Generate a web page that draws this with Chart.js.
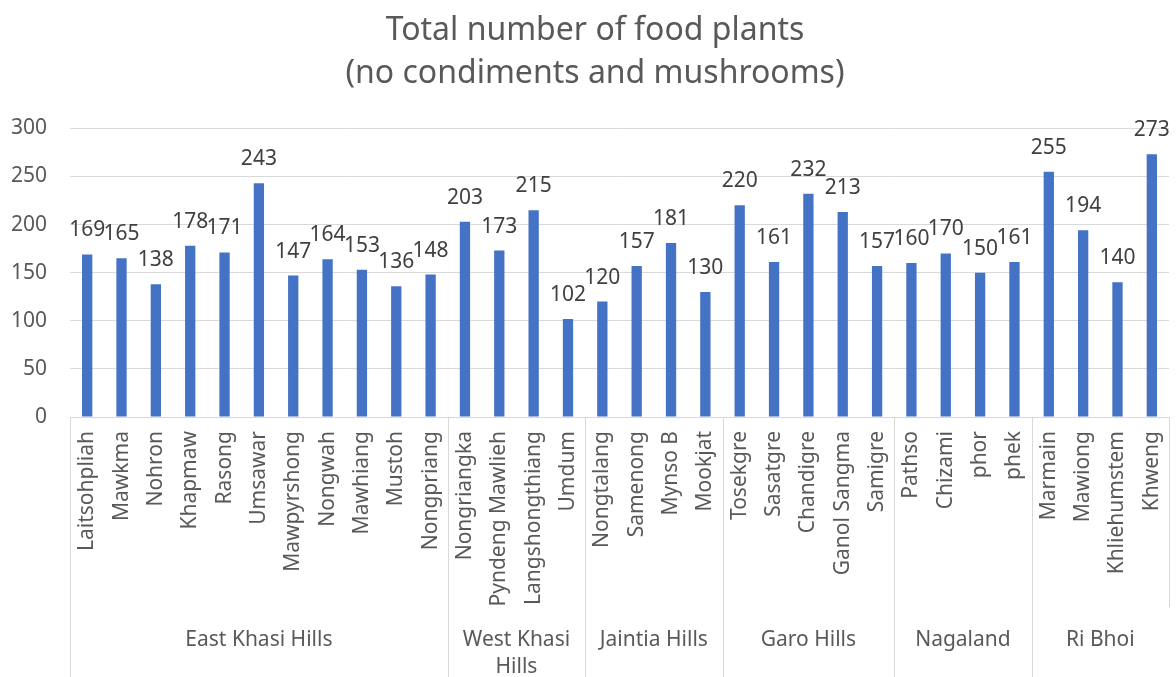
<!DOCTYPE html>
<html>
<head>
<meta charset="utf-8">
<script src="https://cdn.jsdelivr.net/npm/chart.js@4.4.1/dist/chart.umd.min.js"></script>
<style>
  html, body { margin: 0; padding: 0; background: #fff; }
  #wrap { width: 1176px; height: 677px; position: relative; }
</style>
</head>
<body>
<div id="wrap"><canvas id="myChart"></canvas></div>
<script>
const villages = [
  'Laitsohpliah', 'Mawkma', 'Nohron', 'Khapmaw', 'Rasong', 'Umsawar', 'Mawpyrshong',
  'Nongwah', 'Mawhiang', 'Mustoh', 'Nongpriang',
  'Nongriangka', 'Pyndeng Mawlieh', 'Langshongthiang', 'Umdum',
  'Nongtalang', 'Samenong', 'Mynso B', 'Mookjat',
  'Tosekgre', 'Sasatgre', 'Chandigre', 'Ganol Sangma', 'Samigre',
  'Pathso', 'Chizami', 'phor', 'phek',
  'Marmain', 'Mawiong', 'Khliehumstem', 'Khweng'
];
const foodPlants = [
  169, 165, 138, 178, 171, 243, 147, 164, 153, 136, 148,
  203, 173, 215, 102,
  120, 157, 181, 130,
  220, 161, 232, 213, 157,
  160, 170, 150, 161,
  255, 194, 140, 273
];
const regions = ['East Khasi Hills', 'West Khasi Hills', 'Jaintia Hills', 'Garo Hills', 'Nagaland', 'Ri Bhoi'];
const regionSizes = [11, 4, 4, 5, 4, 4];
const yTicks = [0, 50, 100, 150, 200, 250, 300];

const textGrey = '#595959';
const lineGrey = '#d9d9d9';
const fontFamily = '"Noto Sans", "Open Sans", sans-serif';

// nudge the title box so the title sits over the plot rather than the canvas
const titleShift = {
  id: 'titleShift',
  afterLayout(chart) {
    if (chart.titleBlock) {
      chart.titleBlock.left += 21;
    }
  }
};

// value labels above each bar
const barValues = {
  id: 'barValues',
  afterDatasetsDraw(chart) {
    const ctx = chart.ctx;
    const meta = chart.getDatasetMeta(0);
    ctx.save();
    ctx.font = '21px ' + fontFamily;
    ctx.fillStyle = '#404040';
    ctx.textAlign = 'center';
    ctx.textBaseline = 'middle';
    meta.data.forEach((bar, i) => {
      ctx.fillText(String(chart.data.datasets[0].data[i]), bar.x, bar.y - 24);
    });
    ctx.restore();
  }
};

// second row of the category axis: region names and dividers
const regionAxis = {
  id: 'regionAxis',
  afterDraw(chart) {
    const ctx = chart.ctx;
    const x = chart.scales.x;
    const area = chart.chartArea;
    const step = (area.right - area.left) / villages.length;
    const bottom = chart.height;
    ctx.save();
    ctx.strokeStyle = lineGrey;
    ctx.lineWidth = 1;
    ctx.font = '21px ' + fontFamily;
    ctx.fillStyle = textGrey;
    ctx.textAlign = 'center';
    ctx.textBaseline = 'middle';

    let start = 0;
    regions.forEach((name, r) => {
      const left = x.getPixelForValue(start) - step / 2;
      const right = x.getPixelForValue(start + regionSizes[r] - 1) + step / 2;
      const lx = Math.round(left) + 0.5;
      ctx.beginPath();
      ctx.moveTo(lx, area.bottom);
      ctx.lineTo(lx, bottom);
      ctx.stroke();

      // wrap the name when it is wider than its group
      const maxW = right - left - 10;
      const words = name.split(' ');
      const lines = [];
      let cur = '';
      words.forEach(w => {
        const test = cur ? cur + ' ' + w : w;
        if (ctx.measureText(test).width > maxW && cur) {
          lines.push(cur);
          cur = w;
        } else {
          cur = test;
        }
      });
      lines.push(cur);
      lines.forEach((ln, k) => {
        ctx.fillText(ln, (left + right) / 2, 640 + k * 27);
      });
      start += regionSizes[r];
    });

    const rx = Math.round(area.right) + 0.5;
    ctx.beginPath();
    ctx.moveTo(rx, area.bottom);
    ctx.lineTo(rx, 607);
    ctx.stroke();
    ctx.restore();
  }
};

const data = {
  labels: villages,
  datasets: [{
    label: 'Total number of food plants',
    data: foodPlants,
    backgroundColor: '#4472C4',
    barPercentage: 0.3,
    categoryPercentage: 1.0
  }]
};

const config = {
  type: 'bar',
  data: data,
  options: {
    responsive: true,
    maintainAspectRatio: false,
    animation: false,
    layout: { padding: { left: 0, right: 7, top: 0, bottom: 0 } },
    plugins: {
      legend: { display: false },
      tooltip: { enabled: false },
      title: {
        display: true,
        text: ['Total number of food plants', '(no condiments and mushrooms)'],
        color: textGrey,
        font: { family: fontFamily, size: 32, weight: 'normal', lineHeight: 1.35 },
        padding: { top: 9, bottom: 33 }
      }
    },
    scales: {
      x: {
        grid: { display: false, drawTicks: false },
        border: { display: true, color: lineGrey, width: 1 },
        ticks: {
          color: textGrey,
          font: { family: fontFamily, size: 21 },
          autoSkip: false,
          minRotation: 90,
          maxRotation: 90,
          padding: 14
        },
        afterFit: s => {
          s.height = 260;
          s.paddingLeft = 0;
          s.paddingRight = 0;
        }
      },
      y: {
        min: 0,
        max: 300,
        afterBuildTicks: s => { s.ticks = yTicks.map(v => ({ value: v })); },
        grid: { color: lineGrey, drawTicks: false },
        border: { display: false },
        ticks: {
          color: textGrey,
          font: { family: fontFamily, size: 21 },
          padding: 23
        },
        afterFit: s => { s.width = 70; }
      }
    }
  },
  plugins: [titleShift, barValues, regionAxis]
};

new Chart(document.getElementById('myChart'), config);
</script>
</body>
</html>
